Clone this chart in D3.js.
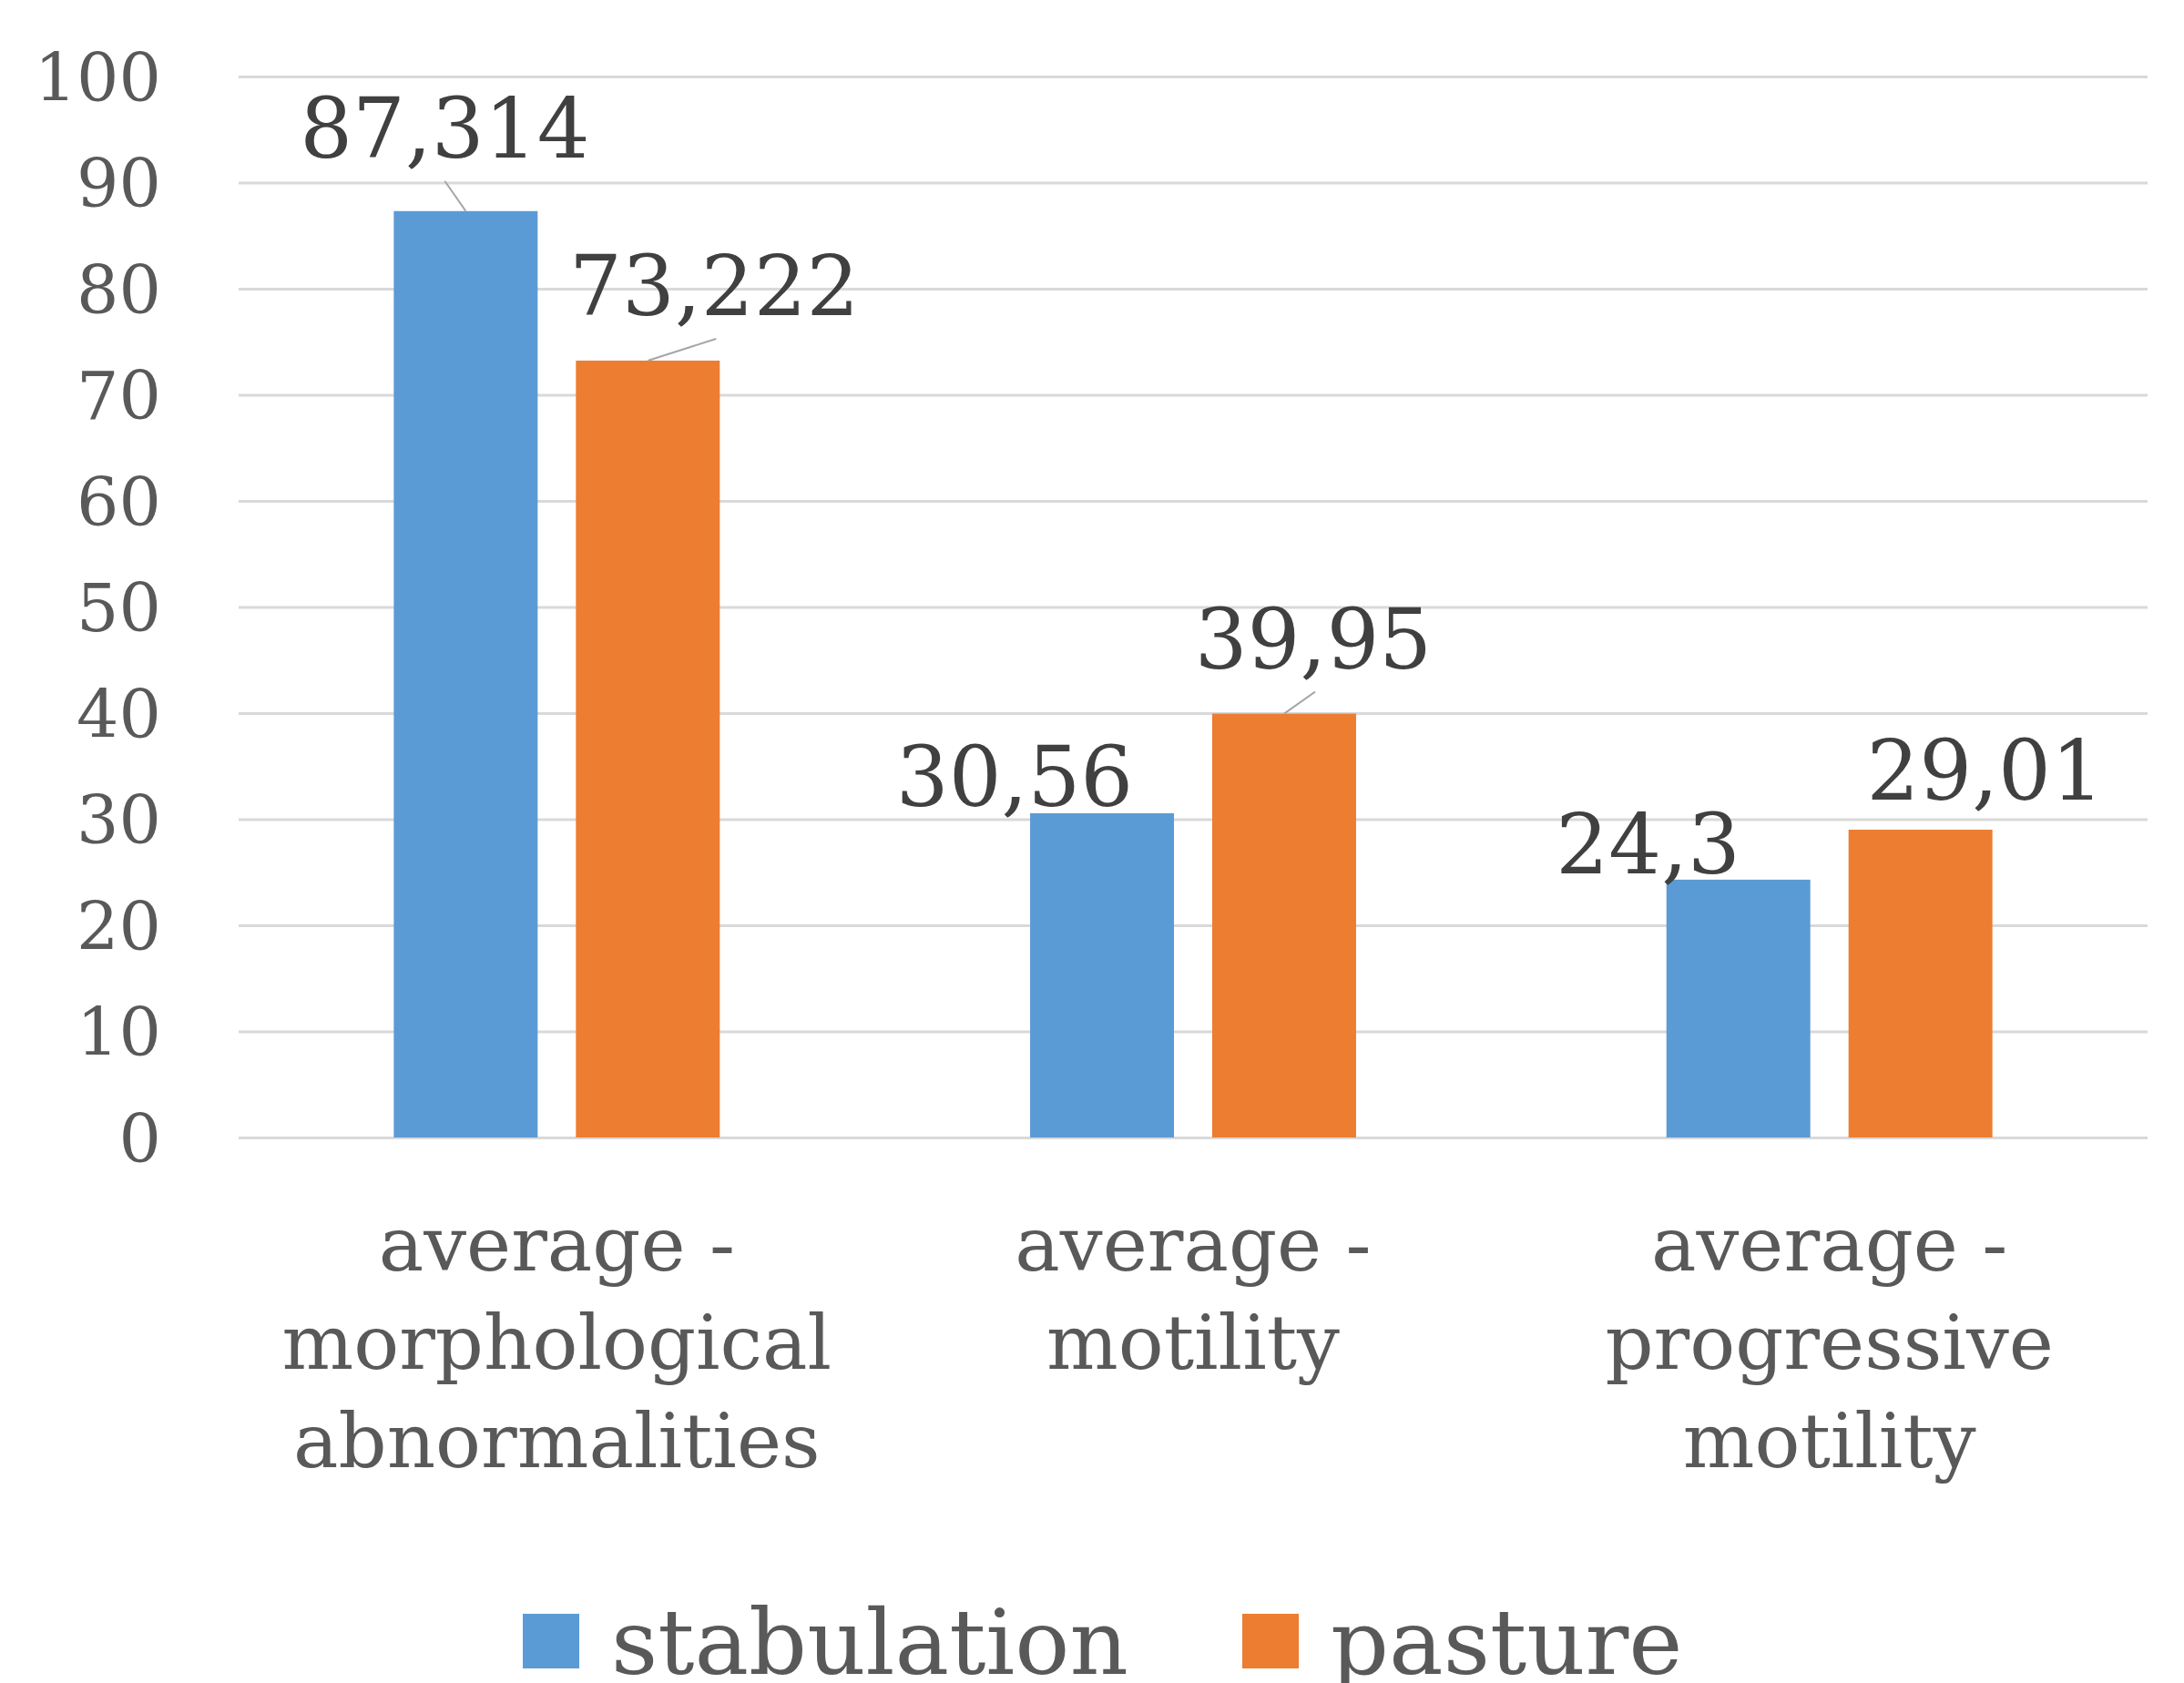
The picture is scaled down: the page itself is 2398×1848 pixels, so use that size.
<!DOCTYPE html>
<html>
<head>
<meta charset="utf-8">
<script src="https://cdn.jsdelivr.net/npm/d3@7"></script>
<style>
  html, body { margin: 0; padding: 0; background: #ffffff; }
  svg { display: block; }
</style>
</head>
<body>
<svg id="chart" width="2398" height="1848"></svg>
<script>
// ---- data ----
const categories = [
  "average - morphological abnormalities",
  "average - motility",
  "average - progressive motility"
];
const seriesNames = ["stabulation", "pasture"];
const stabulation = [87.314, 30.56, 24.3];
const pasture = [73.222, 39.95, 29.01];
const seriesLabels = [
  ["87,314", "30,56", "24,3"],
  ["73,222", "39,95", "29,01"]
];
const yTicks = [0, 10, 20, 30, 40, 50, 60, 70, 80, 90, 100];
const colors = ["#5b9bd5", "#ed7d31"];

// label placement (Excel manual label offsets, px relative to bar-top centre)
const labelOffsets = [
  [{dx: -23, dy: -59, leader: true}, {dx: -96, dy: -8, leader: false}, {dx: -99, dy: -7, leader: false}],
  [{dx: 73, dy: -50, leader: true}, {dx: 32, dy: -50, leader: true}, {dx: 71, dy: -33, leader: false}]
];

const values = [stabulation, pasture];
const rows = categories.map((c, i) => ({
  category: c,
  items: seriesNames.map((s, j) => ({series: s, j, i, value: values[j][i], label: seriesLabels[j][i]}))
}));

// ---- layout ----
const svg = d3.select("#chart");
const margin = {left: 262, right: 40, top: 84, bottom: 599};
const W = 2398, H = 1848;
const innerW = W - margin.left - margin.right;
const innerH = H - margin.top - margin.bottom;
const g = svg.append("g").attr("transform", `translate(${margin.left},${margin.top})`);

const y = d3.scaleLinear().domain([0, 100]).range([innerH, 0]);
const x0 = d3.scaleBand().domain(categories).range([0, innerW]).paddingInner(0).paddingOuter(0);
const x1 = d3.scaleBand().domain(seriesNames).range([0, x0.bandwidth()]).paddingInner(0.21).paddingOuter(0.852);

const FONT = "'DejaVu Serif', 'Liberation Serif', serif";

// gridlines + tick labels
const yAxis = d3.axisLeft(y).tickValues(yTicks).tickSize(-innerW).tickPadding(85).tickFormat(d3.format("d"));
const ya = g.append("g").call(yAxis);
ya.select(".domain").remove();
ya.selectAll(".tick line").attr("stroke", "#d9d9d9").attr("stroke-width", 3);
ya.selectAll(".tick text")
  .attr("x", -85)
  .attr("dy", "0.36em")
  .attr("fill", "#595959")
  .style("font-family", FONT)
  .style("font-size", "73px");

// bars
const groups = g.selectAll("g.cat").data(rows).join("g")
  .attr("class", "cat")
  .attr("transform", d => `translate(${x0(d.category)},0)`);

groups.selectAll("rect").data(d => d.items).join("rect")
  .attr("x", d => x1(d.series))
  .attr("width", x1.bandwidth())
  .attr("y", d => y(d.value))
  .attr("height", d => y(0) - y(d.value))
  .attr("fill", d => colors[d.j]);

// data labels + leader lines
const labelG = g.append("g");
rows.forEach(r => r.items.forEach(d => {
  const cx = x0(r.category) + x1(d.series) + x1.bandwidth() / 2;
  const ty = y(d.value);
  const off = labelOffsets[d.j][d.i];
  if (off.leader) {
    labelG.append("line")
      .attr("x1", cx).attr("y1", ty)
      .attr("x2", cx + (off.dx > 0 ? off.dx * 1.0 + 2 - (off.dx > 50 ? 0 : 0) : off.dx))
      .attr("y2", ty + off.dy + 26)
      .attr("stroke", "#a6a6a6").attr("stroke-width", 2);
  }
  labelG.append("text")
    .attr("x", cx + off.dx)
    .attr("y", ty + off.dy)
    .attr("text-anchor", "middle")
    .attr("fill", "#404040")
    .style("font-family", FONT)
    .style("font-size", "91px")
    .text(d.label);
}));

// category labels
const lineH = 108;
categories.forEach(c => {
  const parts = c.split(" - ");
  const lines = [parts[0] + " -"].concat(parts[1].split(" "));
  const t = g.append("text")
    .attr("x", x0(c) + x0.bandwidth() / 2)
    .attr("y", innerH + 146)
    .attr("text-anchor", "middle")
    .attr("fill", "#595959")
    .style("font-family", FONT)
    .style("font-size", "83px");
  lines.forEach((ln, k) => {
    t.append("tspan")
      .attr("x", x0(c) + x0.bandwidth() / 2)
      .attr("dy", k === 0 ? 0 : lineH)
      .text(ln);
  });
});

// legend
const legendX = [574, 1364];
const leg = svg.append("g");
seriesNames.forEach((s, j) => {
  leg.append("rect")
    .attr("x", legendX[j]).attr("y", 1772)
    .attr("width", 62).attr("height", 60)
    .attr("fill", colors[j]);
  leg.append("text")
    .attr("x", legendX[j] + 97).attr("y", 1838)
    .attr("fill", "#595959")
    .style("font-family", FONT)
    .style("font-size", "100px")
    .text(s);
});
</script>
</body>
</html>
